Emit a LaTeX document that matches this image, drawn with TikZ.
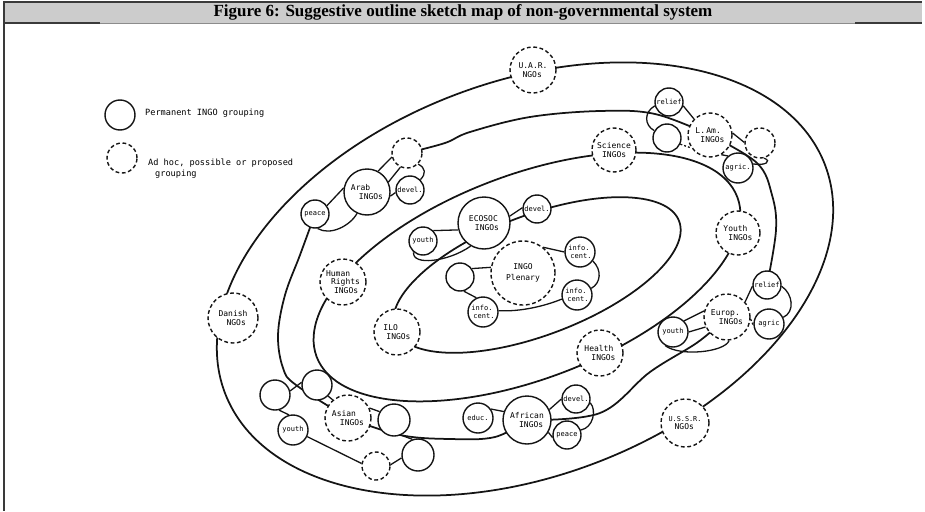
\documentclass[tikz,border=0pt]{standalone}
\usepackage{fontspec}
\setmainfont{Liberation Serif}
\newfontfamily\lblfont{DejaVu Sans Mono}
\usetikzlibrary{backgrounds}
\definecolor{barfill}{HTML}{CCCCCC}
\definecolor{framegray}{HTML}{3A3A3A}
\definecolor{inkc}{HTML}{141414}
\begin{document}
\begin{tikzpicture}[x=1pt,y=-1pt,
  perm/.style={circle,draw=inkc,fill=white,line width=1.4pt,inner sep=0pt,
    minimum size=#1,font=\lblfont\fontsize{8}{8.6}\selectfont,align=left},
  adhoc/.style={perm=#1,dash pattern=on 3.8pt off 2.6pt},
  small/.style={font=\lblfont\fontsize{7}{7.8}\selectfont},
  ring/.style={draw=inkc,line width=1.75pt},
  link/.style={draw=inkc,line width=1.3pt},
  dlink/.style={link,dash pattern=on 2pt off 2pt},
  legtext/.style={font=\lblfont\fontsize{8.6}{11}\selectfont,anchor=west,inner sep=0pt,align=left}
]
\useasboundingbox (0,0) rectangle (925,511);

% ---------- header bar and frame ----------
\fill[barfill] (4,2) rectangle (922,23);
\draw[framegray,line width=1.2pt] (3,2) -- (922,2);
\draw[black!45,line width=0.8pt] (4,23) -- (922,23);
\draw[framegray,line width=1.2pt] (4,23) -- (100,23);
\draw[framegray,line width=1.2pt] (855,23) -- (922,23);
\draw[framegray,line width=1.6pt] (4,1) -- (4,511);
\node[font=\bfseries\fontsize{17}{17}\selectfont,inner sep=0pt] (title) at (463,12.5)
  {Figure 6: Suggestive outline sketch map of non-governmental system};

% ---------- legend ----------
\node[perm=30pt] (legperm) at (120,115) {};
\node[adhoc=30pt] (legadhoc) at (122,158) {};
\node[legtext] (legpermtxt) at (145,113) {Permanent INGO grouping};
\node[legtext] (legadhoctxt) at (148,168.5) {Ad hoc, possible or proposed\\\hspace*{7pt}grouping};

% ---------- national NGOs ----------
\node[adhoc=46pt] (uar) at (533,70) {U.A.R.\\\hspace*{4pt}NGOs};
\node[adhoc=50pt] (danish) at (233,318) {Danish\\\hspace*{8pt}NGOs};
\node[adhoc=48pt] (ussr) at (685,423) {{\fontsize{6.8}{8.6}\selectfont U.S.S.R.}\\\hspace*{6pt}NGOs};

% ---------- Arab grouping ----------
\node[adhoc=30pt] (arabx) at (407,153) {};
\node[perm=46pt] (arab) at (367,192) {Arab\\\hspace*{8pt}INGOs};
\node[perm=28pt,small] (arabdev) at (410,190) {devel.};
\node[perm=28pt,small] (arabpeace) at (315,214) {peace};

% ---------- ECOSOC grouping ----------
\node[perm=28pt,small] (ecoyouth) at (423,241) {youth};
\node[perm=52pt] (ecosoc) at (484,223) {ECOSOC\\\hspace*{6pt}INGOs};
\node[perm=28pt,small] (ecodev) at (537,209) {devel.};

% ---------- plenary and information centres ----------
\node[adhoc=64pt,align=center] (plenary) at (523,273) {INGO\\[2pt]Plenary};
\node[perm=28pt] (plenblank) at (460,277) {};
\node[perm=30pt,small] (infoL) at (483,312) {info.\\\hspace*{2pt}cent.};
\node[perm=30pt,small] (infoT) at (580,252) {info.\\\hspace*{2pt}cent.};
\node[perm=30pt,small] (infoR) at (577,295) {info.\\\hspace*{2pt}cent.};

% ---------- functional groupings ----------
\node[adhoc=46pt] (hr) at (343,282) {Human\\\hspace*{5pt}Rights\\\hspace*{8pt}INGOs};
\node[adhoc=46pt] (ilo) at (397,332) {ILO\\\hspace*{3pt}INGOs};
\node[adhoc=44pt] (science) at (614,150) {Science\\\hspace*{5pt}INGOs};
\node[adhoc=44pt] (youthngo) at (738,233) {Youth\\\hspace*{5pt}INGOs};
\node[adhoc=46pt] (health) at (600,353) {Health\\\hspace*{7pt}INGOs};

% ---------- Latin American grouping ----------
\node[perm=28pt,small] (lamrelief) at (669,102) {relief};
\node[perm=28pt] (lamblank) at (667,138) {};
\node[adhoc=44pt] (lam) at (710,135) {L.\,Am.\\\hspace*{5pt}INGOs};
\node[adhoc=30pt] (lamx) at (760,143) {};
\node[perm=30pt,small] (lamagric) at (738,168) {agric.};

% ---------- European grouping ----------
\node[perm=30pt,small] (euyouth) at (673,332) {youth};
\node[adhoc=46pt] (europ) at (727,317) {Europ.\\\hspace*{8pt}INGOs};
\node[perm=28pt,small] (eurelief) at (767,285) {relief};
\node[perm=30pt,small] (euagric) at (769,324) {agric};

% ---------- African grouping ----------
\node[perm=30pt,small] (afeduc) at (478,418) {educ.};
\node[perm=48pt] (african) at (527,420) {African\\\hspace*{9pt}INGOs};
\node[perm=28pt,small] (afdev) at (576,399) {devel.};
\node[perm=28pt,small] (afpeace) at (567,435) {peace};

% ---------- Asian grouping ----------
\node[perm=30pt] (asb1) at (275,395) {};
\node[perm=30pt] (asb2) at (317,385) {};
\node[perm=30pt,small] (asyouth) at (293,430) {youth};
\node[adhoc=46pt] (asian) at (348,418) {Asian\\\hspace*{8pt}INGOs};
\node[perm=32pt] (asb3) at (394,420) {};
\node[perm=32pt] (asb4) at (418,455) {};
\node[adhoc=28pt] (asx) at (376,466) {};

% ---------- rings (behind the groupings) ----------
\begin{scope}[on background layer]
  % national ring
  \draw[ring, rotate around={20.8:(525,279)}] (525,279) ellipse [x radius=321, y radius=197];
  % functional ring
  \draw[ring, rotate around={20.8:(527,277)}] (527,277) ellipse [x radius=225, y radius=102];
  % intergovernmental ring
  \draw[ring, rotate around={20.8:(537,275)}] (537,275) ellipse [x radius=152, y radius=60];
  % regional ring, broken by the regional groupings
  \draw[ring] plot[smooth,tension=0.6] coordinates {(arabx) (445,143) (470,132) (530,117) (600,111) (655,114) (lam)};
  \draw[ring] plot[smooth,tension=0.6] coordinates {(lam) (757,163) (772,195) (776,230) (eurelief)};
  \draw[ring] plot[smooth,tension=0.6] coordinates {(europ) (698,342) (650,372) (600,413) (african)};
  \draw[ring] plot[smooth,tension=0.6] coordinates {(asian) (400,435) (450,439) (495,437) (african)};
  \draw[ring] plot[smooth,tension=0.6] coordinates {(arabpeace) (300,255) (285,295) (278,335) (283,368) (296,385) (asian)};
\end{scope}

% ---------- links inside the groupings ----------
% Arab
\draw[link] (arabpeace.35) -- (arab.170);
\draw[link] (arabpeace.-80) .. controls (330,236) and (350,226) .. (arab.-115);
\draw[link] (arab.62) -- (arabx.195);
\draw[link] (arab.25) -- (arabx.245);
\draw[link] (arab.-10) -- (arabdev.190);
\draw[link] (arabdev.45) .. controls (426,174) and (426,168) .. (arabx.-45);
% ECOSOC
\draw[link] (ecoyouth.45) -- (ecosoc.195);
\draw[link] (ecoyouth.230) .. controls (412,266) and (448,262) .. (ecosoc.240);
\draw[link] (ecosoc.15) -- (ecodev.175);
% plenary
\draw[link] (plenblank.35) -- (plenary.170);
\draw[link] (plenblank.-75) -- (infoL.115);
\draw[link] (infoL.5) .. controls (520,312) and (545,306) .. (infoR.195);
\draw[link] (plenary.52) -- (infoT.180);
\draw[link] (infoT.-35) .. controls (602,270) and (601,283) .. (infoR.25);
% Latin America
\draw[link] (lamrelief.-15) -- (lam.135);
\draw[link] (lamrelief.195) .. controls (644,112) and (644,125) .. (lamblank.150);
\draw[dlink] (lamblank.-25) -- (lam.215);
\draw[link] (lam.5) -- (lamx.178);
\draw[link] (lam.-60) -- (lamagric.130);
\draw[link] (lamagric.15) .. controls (766,166) and (772,161) .. (lamx.-75);
% Europe
\draw[link] (euyouth.45) -- (europ.165);
\draw[link] (euyouth.0) -- (europ.205);
\draw[link] (euyouth.240) .. controls (680,357) and (725,352) .. (europ.-85);
\draw[link] (europ.40) -- (eurelief.185);
\draw[link] (eurelief.-5) .. controls (793,294) and (795,312) .. (euagric.25);
\draw[dlink] (europ.-5) -- (euagric.185);
% Africa
\draw[link] (afeduc.35) -- (african.160);
\draw[link] (african.25) -- (afdev.180);
\draw[link] (afdev.-15) .. controls (597,410) and (593,428) .. (afpeace.20);
\draw[link] (african.-30) -- (afpeace.190);
% Asia
\draw[link] (asb1.15) -- (asb2.170);
\draw[link] (asb2.-45) -- (asian.130);
\draw[link] (asb1.-75) -- (asyouth.105);
\draw[link] (asyouth.-25) -- (asx.170);
\draw[link] (asx.5) -- (asb4.190);
\draw[link] (asb4.110) -- (asb3.-65);
\draw[link] (asb3.150) -- (asian.25);
\end{tikzpicture}
\end{document}
